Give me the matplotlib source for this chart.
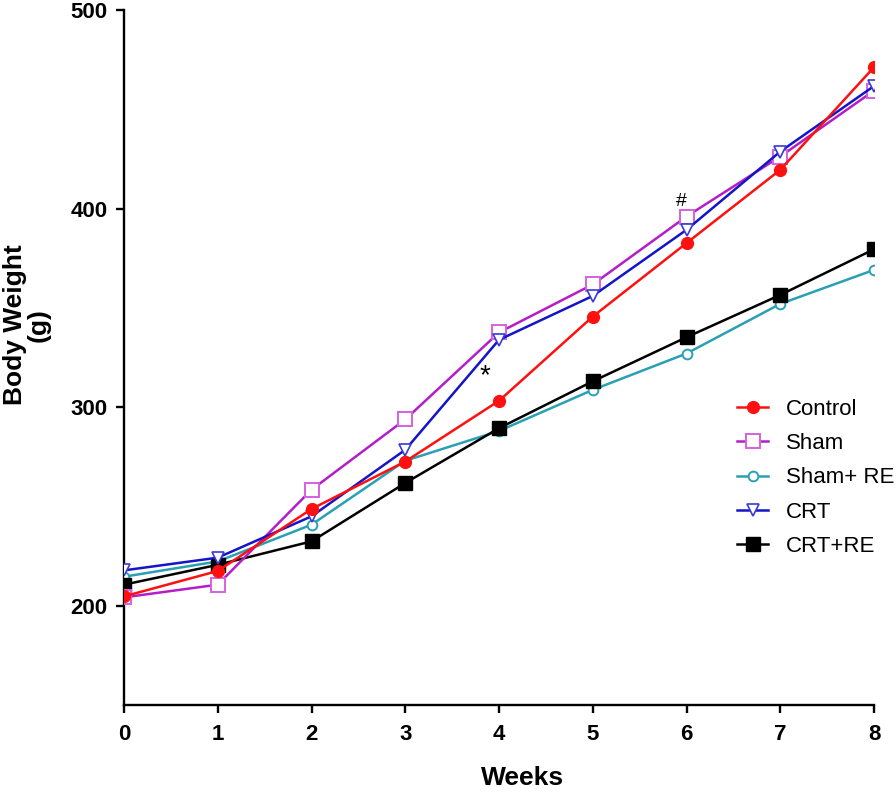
import numpy as np
import matplotlib
matplotlib.use('Agg')
import matplotlib.pyplot as plt

plt.rcParams['font.family'] = ['Liberation Sans', 'DejaVu Sans']

weeks = [0, 1, 2, 3, 4, 5, 6, 7, 8]

control = [204.7, 217.5, 248.7, 272.6, 303.2, 345.6, 382.6, 419.5, 471.2]
sham = [204.2, 210.6, 258.4, 293.8, 337.6, 361.8, 396.0, 426.2, 459.4]
sham_re = [214.6, 222.3, 240.8, 273.0, 288.0, 308.7, 327.0, 352.0, 369.1]
crt = [217.8, 224.2, 245.0, 278.5, 333.9, 356.0, 389.3, 428.7, 461.7]
crt_re = [210.6, 220.6, 232.4, 261.8, 289.4, 313.0, 335.2, 356.5, 379.5]

labels = ['Control', 'Sham', 'Sham+ RE', 'CRT', 'CRT+RE']

fig = plt.figure(figsize=(8.96, 7.92), dpi=100)
ax = fig.add_axes([124/896, 87/792, 750/896, 695/792])

ax.plot(weeks, control, color='#ff1010', lw=1.8, marker='o', ms=8.5,
        mfc='#ff1010', mec='#ff1010', label=labels[0], zorder=5)
ax.plot(weeks, sham, color='#b41ec8', lw=1.8, marker='s', ms=10,
        mfc='white', mec='#d860e0', mew=1.4, label=labels[1], zorder=4)
ax.plot(weeks, sham_re, color='#2aa0b4', lw=1.8, marker='o', ms=7,
        mfc='white', mec='#2aa0b4', mew=1.4, label=labels[2], zorder=3)
ax.plot(weeks, crt, color='#1414c8', lw=1.8, marker='v', ms=8,
        mfc='white', mec='#3a3ad8', mew=1.2, label=labels[3], zorder=4)
ax.plot(weeks, crt_re, color='black', lw=1.8, marker='s', ms=10,
        mfc='black', mec='black', label=labels[4], zorder=3)

# significance marks
ax.text(3.85, 315.5, '*', fontsize=20, ha='center', va='center')
ax.text(5.95, 403.5, '#', fontsize=14, ha='center', va='center')

ax.set_xlim(0, 8)
ax.set_ylim(150, 500)
ax.set_xticks(weeks)
ax.set_yticks([200, 300, 400, 500])

for side in ['top', 'right']:
    ax.spines[side].set_visible(False)
for side in ['left', 'bottom']:
    ax.spines[side].set_linewidth(1.7)

ax.tick_params(direction='out', length=6, width=1.7, labelsize=16, pad=6)
ax.tick_params(axis='x', pad=8)
for t in ax.get_xticklabels() + ax.get_yticklabels():
    t.set_fontweight('bold')

ax.set_xlabel('Weeks', fontsize=19, fontweight='bold', va='center')
ax.xaxis.set_label_coords(0.531, -0.105)
ax.set_ylabel('Body Weight\n(g)', fontsize=19, fontweight='bold',
              linespacing=1.0, va='center', ha='center')
ax.yaxis.set_label_coords(-0.13, 0.547)

ax.legend(loc='center left', bbox_to_anchor=(737/896, 1 - 478/792),
          bbox_transform=fig.transFigure, frameon=False, fontsize=16,
          handlelength=1.4, handletextpad=0.8, labelspacing=0.6,
          borderpad=0, borderaxespad=0)

fig.savefig('out.png', dpi=100)
